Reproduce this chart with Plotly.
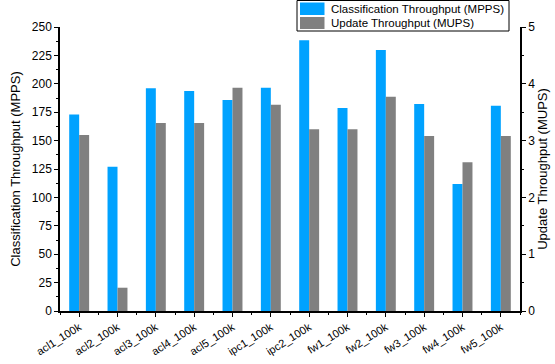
import plotly.graph_objects as go

categories = ["acl1_100k", "acl2_100k", "acl3_100k", "acl4_100k", "acl5_100k", "ipc1_100k",
              "ipc2_100k", "fw1_100k", "fw2_100k", "fw3_100k", "fw4_100k", "fw5_100k"]
classification_mpps = [173, 127, 196, 193.7, 185.7, 196.5, 238.3, 178.7, 229.8, 182.2, 111.8, 180.7]
update_mups = [3.1, 0.41, 3.31, 3.31, 3.93, 3.63, 3.2, 3.2, 3.77, 3.08, 2.62, 3.08]
series_names = ["Classification Throughput (MPPS)", "Update Throughput (MUPS)"]
series_colors = ["#00A2FF", "#808080"]

x = list(range(len(categories)))

font = "Liberation Sans, Arial, sans-serif"

fig = go.Figure()
fig.add_trace(go.Bar(x=x, y=classification_mpps, name=series_names[0],
                     marker=dict(color=series_colors[0], line=dict(width=0)), offsetgroup="1", yaxis="y"))
fig.add_trace(go.Bar(x=x, y=update_mups, name=series_names[1],
                     marker=dict(color=series_colors[1], line=dict(width=0)), offsetgroup="2", yaxis="y2"))

# compact legend box drawn in paper coordinates (plot area: x 60..520 px, y 27..311 px)
def px(v):
    return (v - 60) / 460.0

def py(v):
    return (311 - v) / 284.0

shapes = [
    dict(type="rect", xref="paper", yref="paper", x0=px(297), x1=px(509), y0=py(31), y1=py(0.5),
         line=dict(color="black", width=1), fillcolor="white", layer="above"),
    dict(type="rect", xref="paper", yref="paper", x0=px(300), x1=px(324.5), y0=py(15), y1=py(2.5),
         line=dict(width=0), fillcolor=series_colors[0], layer="above"),
    dict(type="rect", xref="paper", yref="paper", x0=px(300), x1=px(324.5), y0=py(29), y1=py(17),
         line=dict(width=0), fillcolor=series_colors[1], layer="above"),
]
annotations = [
    dict(xref="paper", yref="paper", x=px(328.5), y=py(8.7), text=series_names[0], showarrow=False,
         xanchor="left", yanchor="middle", font=dict(size=11.5, family=font, color="black")),
    dict(xref="paper", yref="paper", x=px(328.5), y=py(22.8), text=series_names[1], showarrow=False,
         xanchor="left", yanchor="middle", font=dict(size=11.5, family=font, color="black")),
]

fig.update_layout(
    width=555, height=364,
    margin=dict(l=60, r=35, t=27, b=53, autoexpand=False),
    paper_bgcolor="white", plot_bgcolor="white",
    barmode="group", bargap=0.48, bargroupgap=0,
    font=dict(family=font, size=11, color="black"),
    showlegend=False,
    shapes=shapes,
    annotations=annotations,
    xaxis=dict(
        range=[-0.5, len(categories) - 0.5],
        tickmode="array", tickvals=x, ticktext=categories, tickangle=-32,
        showline=True, linecolor="black", linewidth=1.5,
        ticks="outside", ticklen=4, tickcolor="black",
        minor=dict(dtick=0.5, tick0=0, ticks="outside", ticklen=2, tickcolor="black"),
        showgrid=False, zeroline=False,
        tickfont=dict(size=11),
    ),
    yaxis=dict(
        range=[0, 250], dtick=25,
        title=dict(text="Classification Throughput (MPPS)", font=dict(size=13), standoff=8),
        showline=True, linecolor="black", linewidth=1.5,
        ticks="outside", ticklen=4, tickcolor="black",
        minor=dict(dtick=12.5, ticks="outside", ticklen=2, tickcolor="black"),
        showgrid=False, zeroline=False,
        tickfont=dict(size=12),
    ),
    yaxis2=dict(
        range=[0, 5], dtick=1, overlaying="y", side="right",
        title=dict(text="Update Throughput (MUPS)", font=dict(size=13), standoff=4),
        showline=True, linecolor="black", linewidth=1.5,
        ticks="outside", ticklen=4, tickcolor="black",
        minor=dict(dtick=0.5, ticks="outside", ticklen=2, tickcolor="black"),
        showgrid=False, zeroline=False,
        tickfont=dict(size=12),
    ),
)

fig.write_html("out.html")
